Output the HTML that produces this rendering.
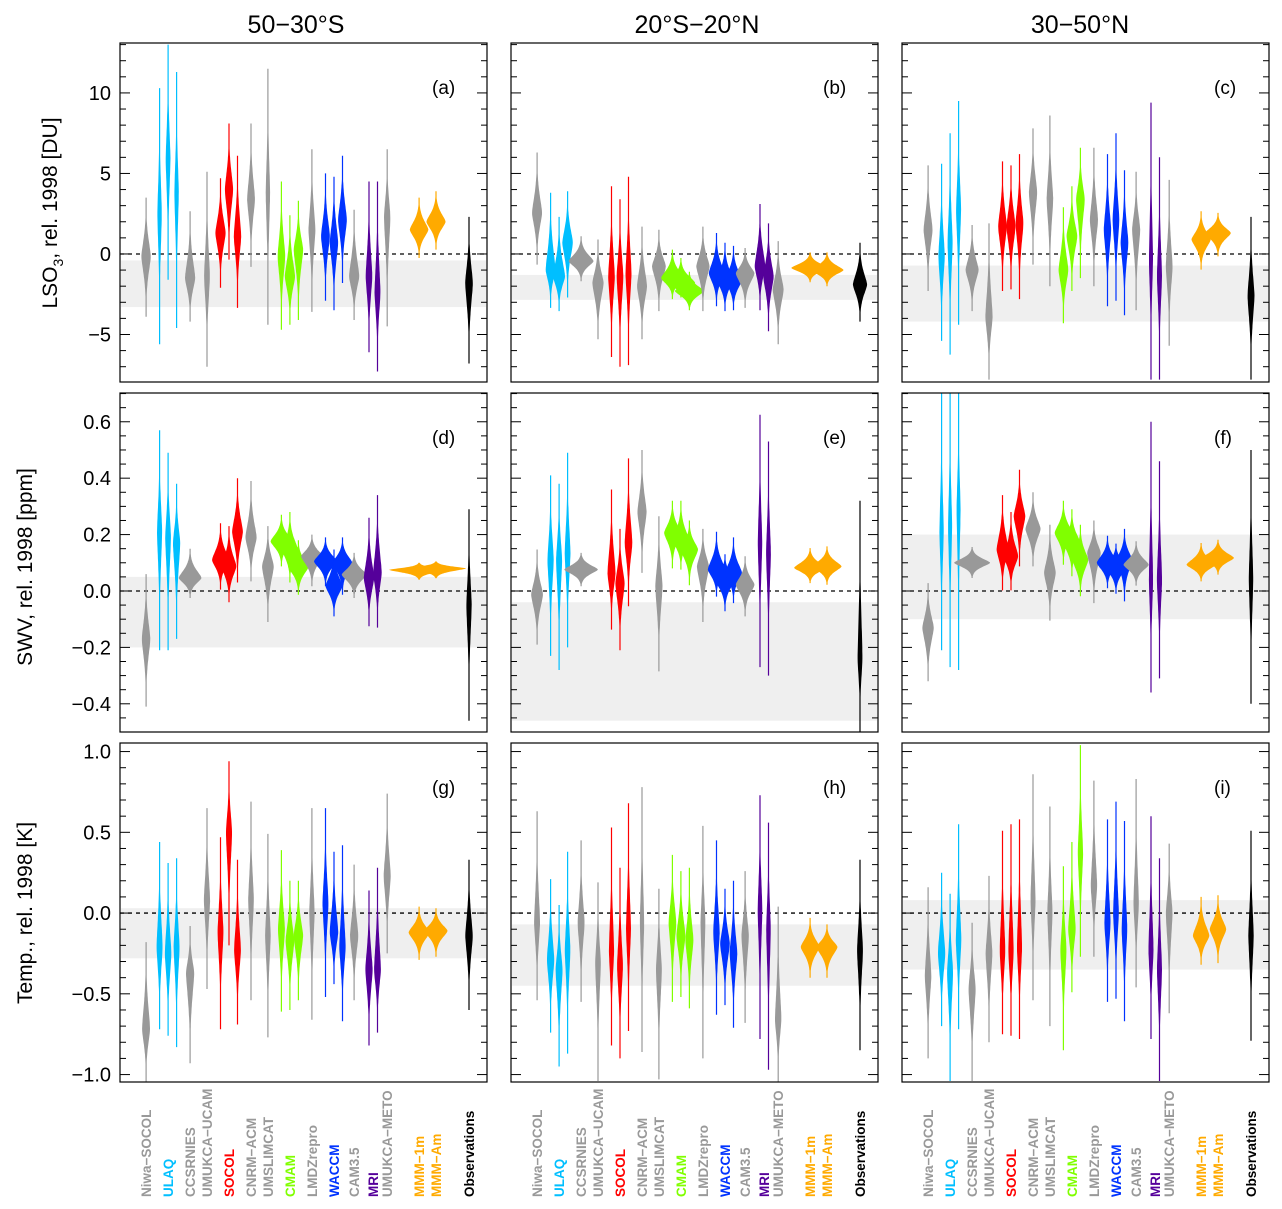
<!DOCTYPE html>
<html><head><meta charset="utf-8">
<style>
html,body{margin:0;padding:0;background:#fff;}
svg{display:block;font-family:"Liberation Sans","DejaVu Sans",sans-serif;}
</style></head>
<body>
<svg id="chart" width="1282" height="1209" viewBox="0 0 1282 1209" xmlns="http://www.w3.org/2000/svg">
<g id="titles">
<text x="296" y="33" font-size="25" text-anchor="middle">50−30°S</text>
<text x="697" y="33" font-size="25" text-anchor="middle">20°S−20°N</text>
<text x="1080" y="33" font-size="25" text-anchor="middle">30−50°N</text>
<text transform="translate(57,213) rotate(-90)" font-size="21" text-anchor="middle">LSO<tspan font-size="14" dy="6">3</tspan><tspan dy="-6">,  rel. 1998 [DU]</tspan></text>
<text transform="translate(32,567) rotate(-90)" font-size="21" text-anchor="middle">SWV,  rel. 1998 [ppm]</text>
<text transform="translate(32,913) rotate(-90)" font-size="21" text-anchor="middle">Temp.,  rel. 1998 [K]</text>
</g>
</svg>
<script>
// ---- categories ----
const models = ["Niwa-SOCOL","ULAQ","CCSRNIES","UMUKCA-UCAM","SOCOL","CNRM-ACM","UMSLIMCAT","CMAM","LMDZrepro","WACCM","CAM3.5","MRI","UMUKCA-METO","MMM-1m","MMM-Am","Observations"];
const modelColors = ["#999999","#00bfff","#999999","#999999","#ff0000","#999999","#999999","#80ff00","#999999","#0033ff","#999999","#55009a","#999999","#ffaa00","#ffaa00","#000000"];
const memberCounts = [1,3,1,1,3,1,1,3,1,3,1,2,1,1,1,1];
const panelLetters = ["a","b","c","d","e","f","g","h","i"];
// ---- tick labels ----
const ticksRow1 = [10,5,0,-5];
const tickLabelsRow1 = ["10","5","0","−5"];
const ticksRow2 = [0.6,0.4,0.2,0.0,-0.2,-0.4];
const tickLabelsRow2 = ["0.6","0.4","0.2","0.0","−0.2","−0.4"];
const ticksRow3 = [1.0,0.5,0.0,-0.5,-1.0];
const tickLabelsRow3 = ["1.0","0.5","0.0","−0.5","−1.0"];
// ---- observational uncertainty band [low, high] per panel ----
const bandLow  = [-3.3,-2.85,-4.2, -0.2,-0.46,-0.1, -0.28,-0.45,-0.35];
const bandHigh = [-0.4,-1.3,-0.72, 0.05,-0.04,0.2, 0.03,-0.07,0.08];
// ---- series: median / low / high per violin (25 violins per panel) ----
const medA=[-0.15,2.5,5.9,3.8,-1.5,-1.4,1.3,4.0,1.1,3.4,3.8,-0.15,-1.4,0.27,1.5,1.1,0.7,2.1,-1.4,-1.4,-2.4,2.3,1.5,2.0,-1.8];
const loA =[-3.9,-5.6,-1.6,-4.6,-4.2,-7.0,-2.1,-0.35,-3.35,-0.8,-4.4,-4.7,-4.4,-4.1,-3.6,-2.9,-3.5,-1.8,-4.1,-6.1,-7.3,-4.5,-0.25,0.27,-6.8];
const hiA =[3.5,10.3,13.0,11.3,2.65,5.1,4.7,8.1,6.1,8.1,11.5,4.5,2.4,3.3,6.5,5.0,4.8,6.1,2.75,4.5,4.5,6.5,3.5,3.9,2.3];
const medB=[2.55,-1.0,-1.4,0.7,-0.45,-1.8,-1.4,-1.4,-1.2,-2.0,-0.77,-1.5,-1.8,-2.3,-0.77,-1.2,-1.6,-1.6,-1.2,-0.77,-1.4,-2.2,-0.87,-1.0,-1.9];
const loB =[-0.66,-3.35,-3.55,-2.7,-1.7,-5.3,-6.4,-7.0,-6.9,-5.3,-3.55,-2.8,-2.7,-3.5,-3.55,-3.25,-3.55,-3.5,-3.35,-3.5,-4.8,-5.6,-1.75,-2.0,-4.2];
const hiB =[6.3,3.8,2.3,3.9,1.1,0.9,4.2,3.4,4.8,1.7,1.5,0.27,-0.25,-1.1,1.7,1.3,0.7,0.5,0.37,3.1,1.9,0.8,0.1,0.1,0.7];
const medC=[1.5,-0.15,0.7,2.75,-1.0,-3.9,1.7,1.7,1.9,3.8,3.4,-1.0,1.1,3.4,2.1,1.5,2.1,0.7,1.5,-0.35,-1.4,-0.77,0.9,1.3,-2.6];
const loC =[-2.3,-5.4,-6.25,-4.4,-3.55,-7.8,-2.3,-2.2,-2.8,-0.66,-2.0,-4.3,-2.3,-1.5,-2.0,-3.25,-2.9,-3.8,-3.5,-7.8,-7.8,-5.7,-0.97,-0.15,-7.8];
const hiC =[5.5,5.6,7.5,9.5,1.8,1.9,5.75,5.5,6.2,7.8,8.6,2.9,4.2,6.6,6.6,6.2,7.5,5.2,5.1,9.4,6.0,4.6,2.65,2.55,2.3];
const medD=[-0.17,0.21,0.19,0.17,0.046,null,0.11,0.087,0.21,0.19,0.087,0.176,0.147,0.087,0.123,0.105,0.017,0.1,0.058,0.046,0.064,null,0.075,0.08,-0.05];
const loD =[-0.41,-0.21,-0.21,-0.17,-0.025,null,0.005,-0.04,0.03,0.034,-0.11,0.087,0.03,-0.013,0.017,0.017,-0.09,-0.013,-0.025,-0.125,-0.13,null,0.04,0.045,-0.46];
const hiD =[0.06,0.57,0.49,0.38,0.15,null,0.24,0.23,0.40,0.39,0.23,0.27,0.28,0.18,0.2,0.19,0.147,0.19,0.135,0.26,0.34,null,0.1,0.105,0.29];
const medE=[-0.013,0.11,0.11,0.135,0.076,null,0.064,0.028,0.17,0.28,0.017,0.206,0.18,0.147,0.087,0.076,0.04,0.064,0.022,0.17,0.135,null,0.082,0.087,-0.24];
const loE =[-0.19,-0.23,-0.28,-0.2,0.017,null,-0.137,-0.21,-0.054,0.064,-0.285,0.08,0.076,0.02,-0.11,-0.02,-0.072,-0.043,-0.09,-0.27,-0.3,null,0.028,0.022,-0.5];
const hiE =[0.147,0.41,0.38,0.49,0.135,null,0.36,0.22,0.47,0.5,0.265,0.32,0.32,0.25,0.22,0.21,0.13,0.19,0.123,0.625,0.53,null,0.152,0.158,0.32];
const medF=[-0.13,0.21,0.23,0.29,0.1,null,0.147,0.123,0.265,0.22,0.064,0.206,0.17,0.11,0.135,0.1,0.087,0.11,0.093,0.04,0.04,null,0.093,0.117,0.04];
const loF =[-0.32,-0.21,-0.27,-0.28,0.046,null,0.002,0.002,0.087,0.087,-0.105,0.093,0.052,-0.019,-0.043,0.01,-0.01,-0.037,0.019,-0.36,-0.31,null,0.034,0.058,-0.4];
const hiF =[0.028,0.72,0.72,0.72,0.156,null,0.34,0.28,0.43,0.35,0.235,0.32,0.29,0.235,0.25,0.196,0.168,0.22,0.176,0.6,0.46,null,0.17,0.182,0.5];
const medG=[-0.72,-0.21,-0.25,-0.21,-0.37,0.08,-0.12,0.5,-0.23,0.08,-0.14,-0.1,-0.17,-0.14,0.0,0.06,-0.12,-0.21,-0.14,-0.35,-0.35,0.23,-0.12,-0.11,-0.14];
const loG =[-1.05,-0.72,-0.76,-0.83,-0.93,-0.47,-0.72,-0.2,-0.69,-0.54,-0.77,-0.61,-0.6,-0.54,-0.66,-0.52,-0.44,-0.67,-0.54,-0.82,-0.74,-0.25,-0.29,-0.27,-0.6];
const hiG =[-0.18,0.44,0.31,0.34,-0.08,0.65,0.47,0.94,0.33,0.69,0.49,0.39,0.2,0.2,0.65,0.65,0.38,0.42,0.3,0.14,0.28,0.74,0.04,0.03,0.33];
const medH=[-0.06,-0.29,-0.35,-0.23,-0.06,-0.31,-0.23,-0.33,-0.1,-0.06,-0.35,-0.06,-0.14,-0.17,-0.06,-0.12,-0.19,-0.25,-0.14,0.02,-0.1,-0.66,-0.21,-0.21,-0.23];
const loH =[-0.54,-0.74,-0.95,-0.87,-0.55,-1.04,-0.82,-0.9,-0.73,-0.86,-1.03,-0.55,-0.52,-0.59,-0.9,-0.63,-0.57,-0.71,-0.68,-0.78,-0.97,-1.05,-0.4,-0.4,-0.85];
const hiH =[0.63,0.21,0.05,0.38,0.45,0.19,0.53,0.28,0.68,0.78,0.15,0.36,0.26,0.28,0.54,0.45,0.15,0.2,0.26,0.73,0.56,0.04,-0.03,-0.07,0.33];
const medI=[-0.39,-0.25,-0.37,-0.17,-0.47,-0.25,-0.23,-0.23,-0.21,0.08,0.0,-0.23,-0.1,0.37,0.165,-0.06,0.0,-0.1,0.06,-0.23,-0.35,0.0,-0.14,-0.1,-0.14];
const loI =[-0.9,-0.7,-1.04,-0.72,-1.04,-0.8,-0.75,-0.76,-0.78,-0.54,-0.7,-0.85,-0.49,-0.27,-0.27,-0.55,-0.53,-0.67,-0.46,-0.78,-1.04,-0.62,-0.32,-0.31,-0.79];
const hiI =[0.16,0.25,0.12,0.55,-0.06,0.23,0.51,0.55,0.58,0.86,0.66,0.29,0.44,1.04,0.82,0.58,0.69,0.57,0.83,0.6,0.34,0.43,0.1,0.11,0.51];

const medians=[medA,medB,medC,medD,medE,medF,medG,medH,medI];
const lows=[loA,loB,loC,loD,loE,loF,loG,loH,loI];
const highs=[hiA,hiB,hiC,hiD,hiE,hiF,hiG,hiH,hiI];
const bandL=bandLow, bandH=bandHigh;

// ---- layout ----
const NS="http://www.w3.org/2000/svg";
const svg=document.getElementById('chart');
const colLeft=[120,511,902], rowTop=[43,393,743], PW=367, PH=339;
const rowDomains=[[-7.95,13.1],[-0.5,0.702],[-1.046,1.053]];
const rowTicks=[ticksRow1,ticksRow2,ticksRow3];
const rowTickLabels=[tickLabelsRow1,tickLabelsRow2,tickLabelsRow3];
const rowMinorStep=[1,0.05,0.1];
const rowMajorStep=[5,0.2,0.5];
const modelCenterFrac=[0.071,0.131,0.191,0.237,0.297,0.357,0.403,0.463,0.523,0.583,0.638,0.69,0.728,0.815,0.861,0.951];
const memberGap=8.5;

function mk(tag,attrs,parent){const e=document.createElementNS(NS,tag);for(const k in attrs)e.setAttribute(k,attrs[k]);(parent||svg).appendChild(e);return e;}
function yScale(r,v){const d=rowDomains[r];return rowTop[r]+(d[1]-v)/(d[1]-d[0])*PH;}
function xScale(c,mi,member){const n=memberCounts[mi];return colLeft[c]+modelCenterFrac[mi]*PW+(member-(n-1)/2)*memberGap;}

const slots=[];
models.forEach((m,mi)=>{for(let k=0;k<memberCounts[mi];k++)slots.push([mi,k]);});

for(let r=0;r<3;r++){
 for(let c=0;c<3;c++){
  const p=r*3+c;
  const g=mk('g',{});
  
  
  const cid='clip'+p;
  const cp=mk('clipPath',{id:cid},g);
  mk('rect',{x:colLeft[c],y:rowTop[r],width:PW,height:PH},cp);
  const y1=yScale(r,bandH[p]), y2=yScale(r,bandL[p]);
  const band=mk('rect',{x:colLeft[c]+1,y:y1,width:PW-2,height:y2-y1,fill:'#efefef','clip-path':'url(#'+cid+')'},g);
  
  
  const zl=mk('line',{x1:colLeft[c],x2:colLeft[c]+PW,y1:yScale(r,0),y2:yScale(r,0),stroke:'#000','stroke-width':1.3,'stroke-dasharray':'4,4'},g);
  
  
  const vg=mk('g',{'clip-path':'url(#'+cid+')'},g);
  slots.forEach(([mi,k],i)=>{
   const med=medians[p][i],lo=lows[p][i],hi=highs[p][i];
   if(med===null||lo===null||hi===null)return;
   const ym=yScale(r,med),ylo=yScale(r,lo),yhi=yScale(r,hi);
   const sUp=Math.max((ym-yhi)/2.5,1),sDn=Math.max((ylo-ym)/2.5,1);
   const hw=Math.min(112/((sUp+sDn)/2),30);
   const cx=xScale(c,mi,k);
   const left=[],right=[];
   const N=60;
   for(let j=0;j<=N;j++){
     const yy=yhi+(ylo-yhi)*j/N;
     const z=yy<ym?(ym-yy)/sUp:(yy-ym)/sDn;
     const w=Math.max(hw*Math.exp(-Math.pow(z,1.5)),0.6);
     right.push((cx+w).toFixed(1)+','+yy.toFixed(1));
     left.unshift((cx-w).toFixed(1)+','+yy.toFixed(1));
   }
   const v=mk('polygon',{points:right.concat(left).join(' '),fill:modelColors[mi]},vg);
   
   
  });
  const fr=mk('rect',{x:colLeft[c],y:rowTop[r],width:PW,height:PH,fill:'none',stroke:'#000','stroke-width':1.2},g);
  
  
  const d=rowDomains[r];
  const step=rowMinorStep[r];
  for(let t=Math.ceil(d[0]/step)*step;t<=d[1]+1e-9;t+=step){
    const tv=Math.round(t/step)*step;
    const isMaj=Math.abs(tv/rowMajorStep[r]-Math.round(tv/rowMajorStep[r]))<1e-6;
    const L=isMaj?10:6, yy=yScale(r,tv);
    mk('line',{x1:colLeft[c],x2:colLeft[c]+L,y1:yy,y2:yy,stroke:'#000','stroke-width':1},g);
    mk('line',{x1:colLeft[c]+PW,x2:colLeft[c]+PW-L,y1:yy,y2:yy,stroke:'#000','stroke-width':1},g);
  }
  const lt=mk('text',{x:colLeft[c]+PW-55,y:rowTop[r]+51,'font-size':19},g);
  lt.textContent='('+panelLetters[p]+')';
  
  
 }
 rowTicks[r].forEach((t,i)=>{
   const tl=mk('text',{x:111,y:yScale(r,t)+7,'font-size':20,'text-anchor':'end'});
   tl.textContent=rowTickLabels[r][i];
   
   
 });
}
for(let c=0;c<3;c++){
  models.forEach((m,mi)=>{
    const x=colLeft[c]+modelCenterFrac[mi]*PW+5;
    const t=mk('text',{transform:'translate('+x.toFixed(1)+',1197) rotate(-90)','font-size':13.5,'font-weight':'bold',fill:modelColors[mi]});
    t.textContent=m.replace('-','−');
    
    
  });
}
</script>
</body></html>
